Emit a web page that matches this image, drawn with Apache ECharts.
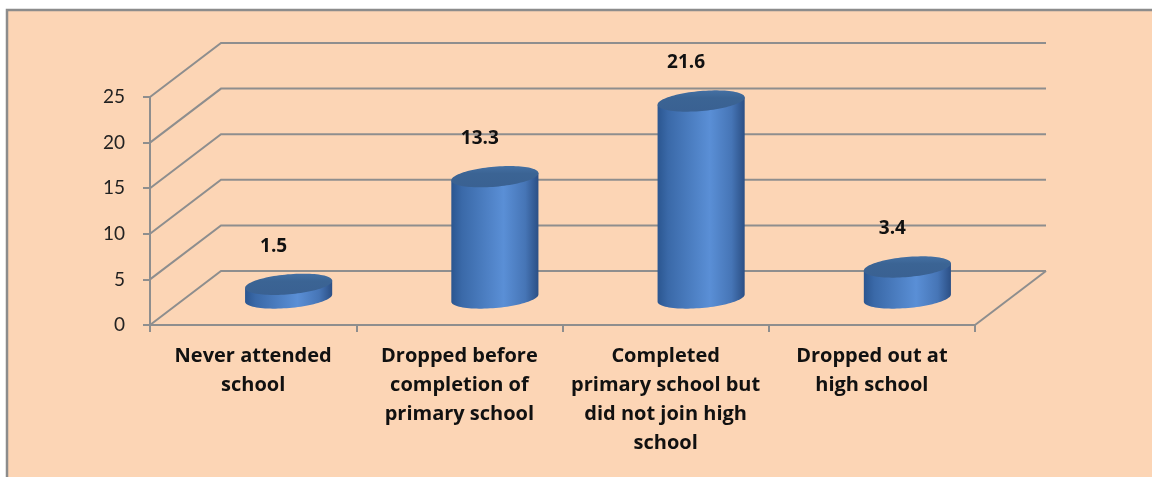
<!DOCTYPE html>
<html>
<head>
<meta charset="utf-8">
<title>School attendance</title>
<script src="https://cdn.jsdelivr.net/npm/echarts@6/dist/echarts.min.js"></script>
<style>
  html, body { margin: 0; padding: 0; background: #ffffff; }
  #chart { width: 1152px; height: 477px; }
</style>
</head>
<body>
<div id="chart"></div>
<script>
// Categories (wrapped as they appear under the floor)
const categories = [
  'Never attended\nschool',
  'Dropped before\ncompletion of\nprimary school',
  'Completed\nprimary school but\ndid not join high\nschool',
  'Dropped out at\nhigh school'
];
// Percentages per category
const values = [1.5, 13.3, 21.6, 3.4];
// Value-axis ticks
const yTicks = [0, 5, 10, 15, 20, 25];

// Depth of the pseudo-3D box (screen offset from the front plane to the back wall)
const DEPTH_X = 71;
const DEPTH_Y = -54;
const TILT = -5 * Math.PI / 180;
const GRID_COLOR = '#8e8e8e';
const TICK_FONT = 'Lato, "Open Sans", sans-serif';
const BOLD_FONT = '"Open Sans", Lato, sans-serif';

const chart = echarts.init(document.getElementById('chart'), null, { renderer: 'canvas' });

// Back-wall grid lines, left-wall diagonals and the floor's right edge
function renderFrame(params, api) {
  const cs = params.coordSys;
  const v = api.value(1);
  const y = api.coord([0, v])[1];
  const x0 = cs.x, x1 = cs.x + cs.width;
  const style = { stroke: GRID_COLOR, lineWidth: 2, fill: null };
  const children = [{
    type: 'polyline',
    shape: { points: [[x0, y], [x0 + DEPTH_X, y + DEPTH_Y], [x1 + DEPTH_X, y + DEPTH_Y]] },
    style: style
  }];
  if (v === yTicks[0]) {
    children.push({
      type: 'line',
      shape: { x1: x1, y1: y, x2: x1 + DEPTH_X, y2: y + DEPTH_Y },
      style: style
    });
  }
  return { type: 'group', children: children };
}

function ellipsePoint(cx, cy, a, b, t) {
  const c = Math.cos(t), s = Math.sin(t);
  return [
    cx + a * c * Math.cos(TILT) - b * s * Math.sin(TILT),
    cy + a * c * Math.sin(TILT) + b * s * Math.cos(TILT)
  ];
}

// One cylinder per category, standing half-way into the box
function renderCylinder(params, api) {
  const i = api.value(0);
  const v = api.value(1);
  const base = api.coord([i, 0]);
  const top = api.coord([i, v]);
  const bandW = api.size([1, 0])[0];
  const a = bandW * 0.212;
  const b = 10;
  const cx = base[0] + DEPTH_X / 2;
  const by = base[1] + DEPTH_Y / 2;
  const ty = top[1] + DEPTH_Y / 2;

  const N = 48;
  const body = [ellipsePoint(cx, ty, a, b, Math.PI)];
  for (let k = 0; k <= N; k++) {
    const t = Math.PI - Math.PI * k / N;
    body.push(ellipsePoint(cx, by, a, b, t));
  }
  body.push(ellipsePoint(cx, ty, a, b, 0));

  const cap = [];
  for (let k = 0; k < N * 2; k++) {
    cap.push(ellipsePoint(cx, ty, a, b, Math.PI * k / N));
  }

  const sideFill = new echarts.graphic.LinearGradient(0, 0, 1, 0, [
    { offset: 0, color: '#2b5690' },
    { offset: 0.12, color: '#3a69a8' },
    { offset: 0.6, color: '#5a8fd6' },
    { offset: 0.85, color: '#4675b6' },
    { offset: 1, color: '#2b4f85' }
  ]);
  const capFill = new echarts.graphic.LinearGradient(0, 0, 0, 1, [
    { offset: 0, color: '#4470a3' },
    { offset: 0.35, color: '#3b6494' },
    { offset: 1, color: '#3a6192' }
  ]);

  return {
    type: 'group',
    children: [
      { type: 'polygon', shape: { points: body }, style: { fill: sideFill } },
      { type: 'polygon', shape: { points: cap }, style: { fill: capFill } },
      {
        type: 'text',
        style: {
          text: v.toFixed(1),
          x: cx - 15,
          y: ty - 38,
          align: 'center',
          verticalAlign: 'middle',
          font: 'bold 19px ' + BOLD_FONT,
          fill: '#111111'
        }
      }
    ]
  };
}

chart.setOption({
  backgroundColor: '#ffffff',
  animation: false,
  graphic: [{
    type: 'rect',
    z: -10,
    shape: { x: 7, y: 10, width: 1160, height: 480 },
    style: { fill: '#fcd5b5', stroke: '#8c8c8c', lineWidth: 2.5 }
  }],
  grid: { left: 150, top: 97, width: 825, height: 228 },
  xAxis: {
    type: 'category',
    data: categories,
    axisLine: { show: true, lineStyle: { color: GRID_COLOR, width: 2 } },
    axisTick: { show: true, length: 7, lineStyle: { color: GRID_COLOR, width: 2 } },
    axisLabel: {
      interval: 0,
      margin: 17,
      fontFamily: BOLD_FONT,
      fontWeight: 'bold',
      fontSize: 20,
      lineHeight: 29,
      color: '#111111',
      align: 'center'
    },
    splitLine: { show: false }
  },
  yAxis: {
    type: 'value',
    min: yTicks[0],
    max: yTicks[yTicks.length - 1],
    interval: yTicks[1] - yTicks[0],
    axisLine: { show: true, lineStyle: { color: GRID_COLOR, width: 2 } },
    axisTick: { show: true, length: 7, lineStyle: { color: GRID_COLOR, width: 2 } },
    axisLabel: { margin: 25, fontFamily: TICK_FONT, fontSize: 19, color: '#222222' },
    splitLine: { show: false }
  },
  series: [
    {
      type: 'custom',
      name: 'frame',
      z: 1,
      silent: true,
      renderItem: renderFrame,
      data: yTicks.map(function (t) { return [0, t]; })
    },
    {
      type: 'custom',
      name: 'Share',
      z: 3,
      renderItem: renderCylinder,
      data: values.map(function (v, i) { return [i, v]; })
    }
  ]
});
</script>
</body>
</html>
